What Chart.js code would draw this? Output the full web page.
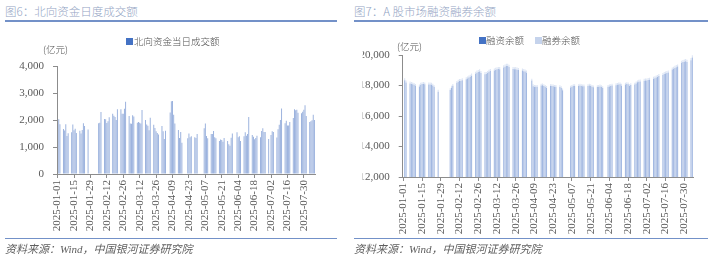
<!DOCTYPE html>
<html>
<head>
<meta charset="utf-8">
<script src="https://cdn.jsdelivr.net/npm/chart.js@4.4.1/dist/chart.umd.min.js"></script>
<style>
body { margin: 0; background: #fff; width: 708px; height: 261px; position: relative; overflow: hidden; font-family: "Noto Sans CJK SC", sans-serif; }
.t { position: absolute; white-space: nowrap; line-height: 1; }
.title { top: 6px; font-size: 11.5px; color: #94a5c4; font-weight: 300; }
.rule { position: absolute; height: 1.5px; background: #7391c8; }
.src { top: 244px; font-size: 11px; color: #606060; font-style: italic; font-family: "Liberation Serif", "Noto Sans CJK SC", serif; }
.leg { font-size: 9.5px; color: #505050; font-weight: 300; }
.sw { position: absolute; width: 7px; height: 7px; }
canvas { position: absolute; top: 0; }
</style>
</head>
<body>
<div class="t title" style="left:5px">图6：北向资金日度成交额</div>
<div class="rule" style="left:5px;width:332px;top:20px"></div>
<div class="t title" style="left:354px">图7：A 股市场融资融券余额</div>
<div class="rule" style="left:354px;width:354px;top:20px"></div>

<canvas id="north" width="340" height="261" style="left:0"></canvas>
<canvas id="margin" width="368" height="261" style="left:340px"></canvas>

<div class="t leg" style="left:43px;top:45px">(亿元)</div>
<div class="sw" style="left:126px;top:38px;background:#4472c4"></div>
<div class="t leg" style="left:134px;top:37px">北向资金当日成交额</div>

<div class="t leg" style="left:397px;top:42px">(亿元)</div>
<div class="sw" style="left:479px;top:37px;background:#4472c4"></div>
<div class="t leg" style="left:486px;top:36px">融资余额</div>
<div class="sw" style="left:535px;top:37px;background:#c5d3ec"></div>
<div class="t leg" style="left:542px;top:36px">融券余额</div>

<div class="rule" style="left:5px;width:332px;top:238px;height:1px"></div>
<div class="rule" style="left:354px;width:354px;top:238px;height:1px"></div>
<div class="t src" style="left:5px">资料来源：Wind，中国银河证券研究院</div>
<div class="t src" style="left:354px">资料来源：Wind，中国银河证券研究院</div>

<script>
// 休市日
const mainlandClosed = ['2025-01-01', '2025-01-28', '2025-01-29', '2025-01-30', '2025-01-31', '2025-02-03', '2025-02-04',
  '2025-04-04', '2025-05-01', '2025-05-02', '2025-05-05', '2025-06-02'];
const northboundClosed = mainlandClosed.concat(['2025-04-18', '2025-04-21', '2025-07-01']);

// 北向资金当日成交额（亿元），按交易日顺序
const northboundTurnover = [
  2030, 1840, 1670, 1610, 1840, 1410, 1510, 1550, 1830, 1620, 1680, 1520, 1600, 1500, 1630, 1880, 1780, 1650,
  1880, 1900, 2300, 2040, 2030, 1890, 1950, 2100, 2230, 2160, 2110, 2000, 2400, 2400, 2230, 2230, 2420, 2680,
  2150, 1870, 1860, 2180, 2130, 1900, 1930, 1900, 1870, 2370, 2000, 1830, 1790, 1620, 2080, 1820, 1700, 1580, 1520, 1460, 1780,
  1580, 1300, 1600, 2280, 2690, 2700, 2190, 1870, 1630, 1330, 1560, 1160, 1320, 1500, 1360, 1400, 1360, 1330, 1480,
  1690, 1870, 1410, 1320, 1480, 1480, 1590, 1360, 1320, 1220, 1280, 1260, 1190, 1330, 1220, 1100, 1050, 1340, 1500,
  1550, 1360, 1400, 1220, 1400, 1550, 1420, 1480, 2110, 1440, 1380, 1290, 1330, 1420, 1360, 1590, 1690, 1560, 1560, 1300,
  1440, 1580, 1560, 1350, 1660, 1820, 2000, 2430, 1880, 1970, 1800, 1800, 1930, 2070, 2400, 2360, 2380, 2270, 2250, 2310, 2380, 2550,
  2150, 1930, 1950, 1990, 2190, 2000
];

// 融资余额（亿元）
const marginFinancing = [
  18352, 18193, 18134, 18104, 18075, 18045, 17976, 17936, 18055, 18095, 18104, 18074, 18064, 18073, 18053, 17994, 17895, 17597,
  17698, 17857, 17976, 18174, 18253, 18292, 18301, 18350, 18409, 18458, 18517, 18566, 18645, 18764, 18843, 18883, 18922, 18814,
  18745, 18755, 18814, 18903, 18952, 18981, 19020, 19059, 19079, 19070, 19188, 19237, 19286, 19276, 19217, 19078, 19059, 19069, 19040, 19011, 18981,
  18942, 18912, 18843, 18320, 17956, 17909, 17920, 17911, 18001, 18011, 17972, 17922, 17843, 17963, 17973, 17943, 17924, 17924, 17904, 17834, 17685,
  17865, 17915, 17964, 17964, 17974, 17993, 17973, 17953, 17943, 17973, 17992, 17972, 17922, 17883, 17903, 17923, 17942, 17902, 17833,
  17923, 17942, 17972, 17992, 18021, 18051, 18070, 18080, 17991, 18060, 18100, 18080, 17971, 18031, 18060, 18139, 18208, 18247, 18266, 18315,
  18335, 18334, 18364, 18383, 18443, 18482, 18521, 18560, 18619, 18688, 18747, 18786, 18816, 18845, 19043, 19092, 19151, 19200, 19239, 19487, 19536, 19565, 19584,
  19545, 19654, 19832
];

// 融券余额（亿元）
const securitiesLending = [
  128, 127, 126, 126, 125, 125, 124, 124, 125, 125, 126, 126, 126, 127, 127, 126, 125, 123,
  122, 123, 124, 126, 127, 128, 129, 130, 131, 132, 133, 134, 135, 136, 137, 137, 138, 136,
  135, 135, 136, 137, 138, 139, 140, 141, 141, 140, 142, 143, 144, 144, 143, 142, 141, 141, 140, 139, 139,
  138, 138, 137, 130, 124, 121, 120, 119, 119, 119, 118, 118, 117, 117, 117, 117, 116, 116, 116, 116, 115,
  115, 115, 116, 116, 116, 117, 117, 117, 117, 117, 118, 118, 118, 117, 117, 117, 118, 118, 117,
  117, 118, 118, 118, 119, 119, 120, 120, 119, 120, 120, 120, 119, 119, 120, 121, 122, 123, 124, 125,
  125, 126, 126, 127, 127, 128, 129, 130, 131, 132, 133, 134, 134, 135, 137, 138, 139, 140, 141, 143, 144, 145, 146,
  145, 146, 148
];

const northTicks = [0, 1000, 2000, 3000, 4000];
const marginTicks = [12000, 14000, 16000, 18000, 20000];

function tradingCalendar(end, closed) {
  const labels = [], open = [];
  const d = new Date(Date.UTC(2025, 0, 1));
  const stop = new Date(end + 'T00:00:00Z');
  while (d <= stop) {
    const iso = d.toISOString().slice(0, 10);
    const wd = d.getUTCDay();
    labels.push(iso);
    open.push(wd !== 0 && wd !== 6 && !closed.includes(iso));
    d.setUTCDate(d.getUTCDate() + 1);
  }
  return { labels, open };
}
function spread(open, values) {
  let k = 0;
  return open.map(o => (o ? values[k++] : null));
}

const axisColor = '#8c8c8c';
const tickFont = { family: '"Liberation Serif", "Times New Roman", serif', size: 11 };
const tickColor = '#595959';

function makeOptions(ticksList, pad, stacked) {
  return {
    responsive: false,
    animation: false,
    layout: { padding: pad },
    plugins: { legend: { display: false }, tooltip: { enabled: false } },
    scales: {
      x: {
        stacked: stacked,
        offset: true,
        grid: {
          drawOnChartArea: false, offset: false, tickLength: 4,
          color: ctx => (ctx.index % 14 === 0 ? axisColor : 'rgba(0,0,0,0)')
        },
        border: { color: axisColor },
        ticks: {
          autoSkip: false, maxRotation: 90, minRotation: 90, padding: 2,
          font: tickFont, color: tickColor,
          callback: function (v, i) { return i % 14 === 0 ? this.getLabelForValue(v) : ''; }
        },
        afterFit: s => { s.height = 60; }
      },
      y: {
        stacked: stacked,
        min: ticksList[0],
        max: ticksList[ticksList.length - 1],
        afterBuildTicks: s => { s.ticks = ticksList.map(v => ({ value: v })); },
        grid: { drawOnChartArea: false, tickLength: 4, color: axisColor },
        border: { color: axisColor },
        ticks: { padding: 9, font: tickFont, color: tickColor, callback: v => v.toLocaleString('en-US') },
        afterFit: s => { s.width = 40; }
      }
    }
  };
}

const northCal = tradingCalendar('2025-08-08', northboundClosed);
new Chart(document.getElementById('north'), {
  type: 'bar',
  data: {
    labels: northCal.labels,
    datasets: [{
      label: '北向资金当日成交额',
      data: spread(northCal.open, northboundTurnover),
      backgroundColor: '#96aedc',
      barPercentage: 0.8,
      categoryPercentage: 1
    }]
  },
  options: makeOptions(northTicks, { left: 17, right: 25, top: 66, bottom: 27 }, false)
});

const marginCal = tradingCalendar('2025-08-05', mainlandClosed);
new Chart(document.getElementById('margin'), {
  type: 'bar',
  data: {
    labels: marginCal.labels,
    datasets: [{
      label: '融资余额',
      data: spread(marginCal.open, marginFinancing),
      backgroundColor: '#a2b8e1',
      barPercentage: 0.8,
      categoryPercentage: 1
    }, {
      label: '融券余额',
      data: spread(marginCal.open, securitiesLending),
      backgroundColor: '#dbe4f4',
      barPercentage: 0.8,
      categoryPercentage: 1
    }]
  },
  options: makeOptions(marginTicks, { left: 22.7, right: 15, top: 55, bottom: 24 }, true)
});
</script>
</body>
</html>
